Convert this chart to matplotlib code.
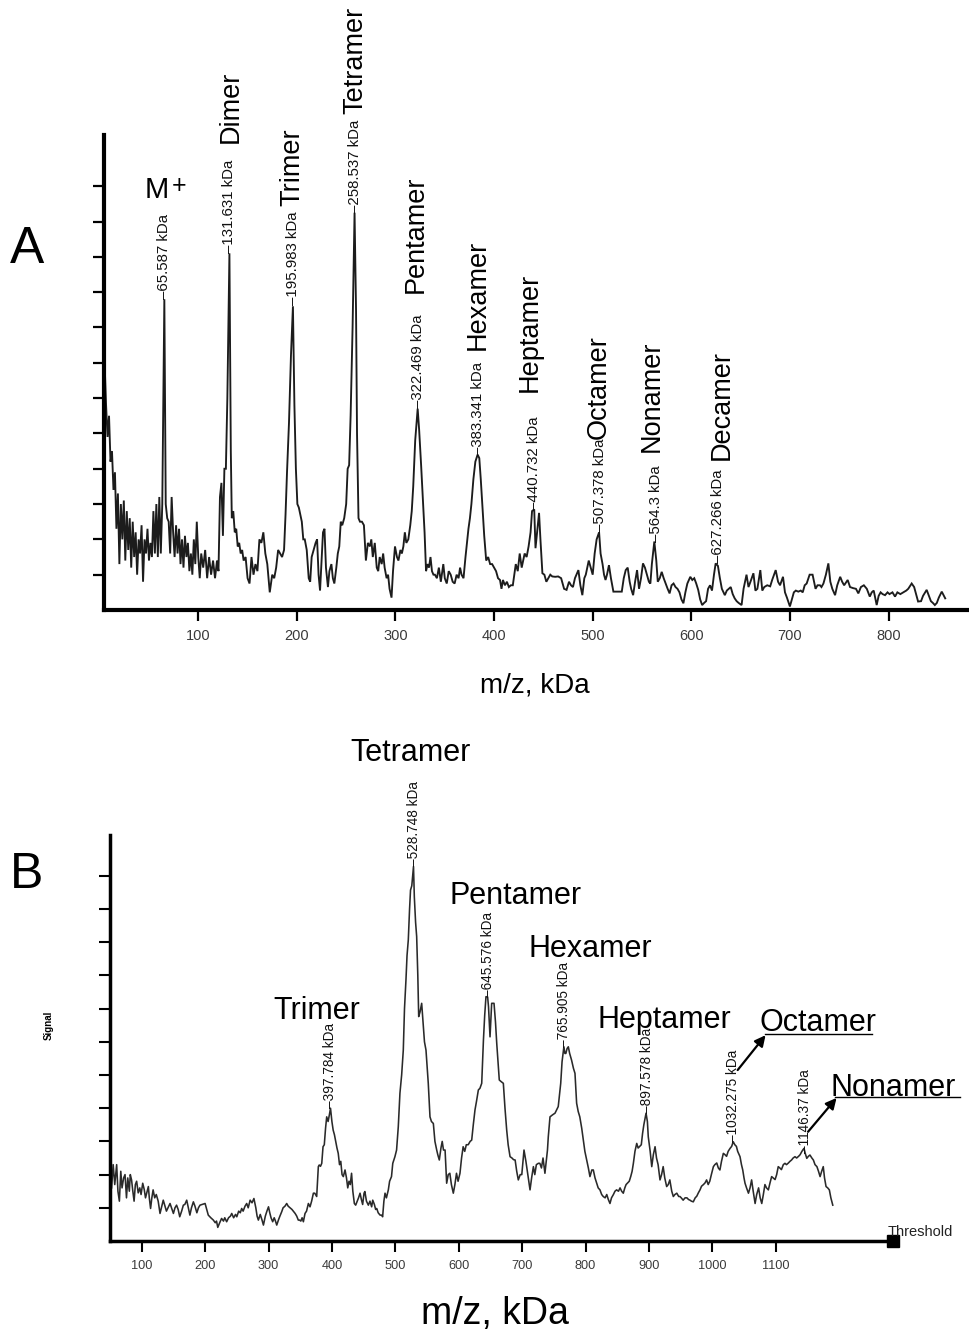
import matplotlib
matplotlib.use('Agg')
import matplotlib.pyplot as plt

plt.rcParams['font.family'] = ['Liberation Sans', 'DejaVu Sans']

# ---------------- data ----------------
spectrum_a = [
    (5, 7.0), (6.5, 5.8), (8, 4.9), (9.5, 5.5), (11, 4.2), (12.5, 4.5), (14, 3.4), (15.5, 3.9),
    (17, 2.3), (18.5, 3.3), (20, 1.3), (21.5, 3.0), (23, 2.0), (24.5, 3.1), (26, 1.4), (27.5, 2.8),
    (29, 1.7), (30.5, 2.6), (32, 1.2), (33.5, 2.5), (35, 1.5), (36.5, 2.2), (38, 1.0), (39.5, 2.0),
    (41, 1.6), (42.5, 2.4), (44, 0.8), (45.5, 2.0), (47, 1.6), (48.5, 2.3), (50, 1.4), (51.5, 1.9),
    (53, 1.5), (54.5, 2.8), (56, 1.6), (57.5, 3.0), (59, 1.5), (60.5, 3.2), (62, 1.6), (63.5, 3.0),
    (65.6, 8.8), (67, 3.0), (68.5, 2.6), (70, 2.5), (71.5, 1.6), (73, 3.2), (74.5, 2.2), (76, 1.5),
    (77.5, 2.4), (79, 1.6), (80.5, 2.3), (82, 1.3), (83.5, 2.0), (85, 1.2), (86.5, 2.1), (88, 1.5),
    (89.5, 1.9), (91, 1.1), (92.5, 1.6), (94, 1.0), (95.5, 2.0), (97, 1.3), (98.5, 2.5), (100, 1.5),
    (101.5, 0.9), (103, 1.6), (105, 1.2), (107, 1.7), (109, 0.9), (111, 1.5), (113, 1.0), (115, 1.4),
    (117, 0.9), (119, 1.4), (120.5, 1.1), (122, 3.2), (123.5, 3.6), (125, 2.1), (126.5, 4.0), (128, 4.0),
    (129.5, 6.0), (131.6, 10.1), (133, 4.5), (134, 2.6), (135.5, 2.8), (137, 2.2), (138.5, 2.3), (140, 1.8),
    (141.5, 1.9), (143, 1.6), (144.5, 1.7), (146, 1.4), (148, 1.5), (150, 0.9), (152, 0.75), (154, 1.5),
    (156, 1.0), (158, 1.3), (160, 1.1), (162, 2.0), (164, 1.9), (166, 2.2), (168, 1.6), (170, 1.3),
    (172.5, 0.5), (175, 1.0), (177, 0.9), (179, 1.2), (181, 1.7), (183, 1.6), (185, 1.5), (187, 1.7),
    (188.5, 2.7), (190, 3.9), (192, 5.3), (194, 7.2), (196, 8.6), (197.5, 5.8), (199, 4.0), (200.5, 3.0),
    (202, 2.9), (203.5, 2.7), (205, 2.5), (206.5, 2.0), (208, 2.0), (210, 1.7), (212, 0.9), (213.5, 0.8),
    (215, 1.5), (217, 1.7), (219, 1.9), (220.5, 2.0), (222, 1.0), (223.5, 0.55), (225, 1.4), (226.5, 2.2),
    (228, 2.3), (229.5, 1.2), (231.5, 0.65), (233, 1.1), (235, 1.3), (236.5, 0.9), (238, 0.75), (240, 1.2),
    (241.5, 1.6), (243, 1.8), (244.5, 2.5), (246, 2.4), (248, 2.6), (250, 3.0), (251.5, 4.0), (253, 4.1),
    (254.5, 5.5), (256.5, 8.0), (258.5, 11.25), (260, 8.5), (261, 5.0), (262.5, 2.6), (264, 2.5), (266, 2.5),
    (268, 2.4), (270, 1.4), (272, 1.9), (274, 1.8), (275.5, 2.0), (277, 1.5), (279, 1.9), (281, 1.2),
    (282.5, 1.1), (284, 1.5), (286, 1.3), (287.5, 1.6), (289, 1.2), (291, 0.9), (292.5, 1.0), (294, 0.6),
    (296, 0.35), (297.5, 1.1), (299.5, 1.8), (301.5, 1.5), (303, 1.4), (305, 1.7), (306.5, 1.6), (308, 1.8),
    (309.5, 2.2), (311, 1.9), (313, 2.0), (315, 2.4), (316.5, 2.8), (318, 3.5), (320, 4.8), (322.5, 5.7),
    (324, 5.1), (326, 4.1), (328, 3.0), (329.5, 2.2), (331, 1.1), (332.5, 1.3), (334, 1.2), (335.5, 1.5),
    (337, 1.1), (338.5, 1.0), (340, 1.0), (342, 0.9), (344, 1.2), (346, 0.8), (348.5, 1.3), (350, 0.9),
    (352, 0.75), (354, 1.1), (356, 1.0), (358, 0.8), (360, 0.75), (362, 1.0), (364, 0.9), (365.5, 1.2),
    (367, 1.0), (369, 0.9), (371, 1.5), (372.5, 1.9), (374, 2.3), (375.5, 2.6), (377, 3.0), (379, 3.7),
    (381, 4.2), (383.3, 4.4), (385, 4.3), (386.5, 3.7), (388, 3.0), (390, 2.1), (392, 1.4), (394, 1.5),
    (396, 1.3), (398, 1.3), (400, 1.2), (402, 1.1), (404, 0.9), (406, 0.85), (407.5, 0.6), (409, 0.85),
    (411, 0.7), (413, 0.8), (415, 0.65), (417, 0.7), (419, 0.7), (420.5, 1.0), (422, 1.3), (424, 1.1),
    (426, 1.6), (428, 1.2), (429.5, 1.4), (431, 1.6), (433, 1.5), (435, 1.8), (437, 2.2), (438.5, 2.8),
    (440.7, 2.85), (442, 1.75), (444, 2.3), (445.6, 2.75), (447, 2.0), (449, 1.04), (451, 1.0), (453, 0.8),
    (455, 0.9), (457, 1.0), (459, 0.95), (462, 0.94), (465, 0.95), (468, 0.9), (471, 0.6), (473.5, 0.57),
    (476, 0.8), (478, 0.7), (480, 0.65), (482, 0.9), (485.5, 1.13), (487.5, 0.7), (489.5, 0.42), (491.5, 0.9),
    (493, 1.0), (496, 1.4), (498, 1.2), (500, 1.0), (502, 1.6), (504, 2.0), (506.5, 2.2), (508, 1.6),
    (510, 1.3), (511.5, 1.0), (513, 0.85), (514.5, 1.0), (516.5, 1.27), (518.5, 0.9), (521, 0.52), (525, 0.52),
    (529.5, 0.52), (531.5, 0.9), (533.5, 1.13), (535.5, 1.2), (537.5, 0.8), (539, 0.6), (541, 0.42), (543, 0.8),
    (545, 1.13), (547, 0.6), (549, 0.9), (551, 1.32), (553, 1.2), (555, 1.0), (557, 0.8), (558.5, 0.75),
    (560, 1.3), (562.5, 1.94), (564.5, 1.4), (566, 0.8), (568, 0.9), (570, 1.08), (572, 0.9), (574, 0.75),
    (576, 0.6), (578, 0.47), (580, 0.7), (582, 0.75), (584, 0.65), (586, 0.6), (588, 0.5), (590, 0.3),
    (592, 0.19), (594, 0.5), (596, 0.75), (599, 0.94), (601, 0.85), (603, 0.9), (605, 0.75), (607, 0.57),
    (609, 0.3), (611, 0.14), (613, 0.2), (615, 0.25), (617, 0.6), (619, 0.7), (621, 0.55), (623, 1.0),
    (624.7, 1.32), (627, 1.25), (629, 0.9), (631, 0.6), (634, 0.42), (636, 0.55), (638, 0.6), (640, 0.65),
    (642, 0.45), (644, 0.33), (646, 0.25), (648, 0.2), (651, 0.14), (653, 0.6), (656, 1.0), (658, 0.65),
    (660, 0.8), (663, 1.04), (665, 0.55), (667, 0.6), (670, 1.13), (672, 0.55), (674, 0.65), (677, 0.7),
    (680, 0.67), (682, 0.85), (685.6, 1.13), (688, 0.8), (690, 0.7), (693, 0.94), (695, 0.5), (697, 0.35),
    (700, 0.1), (702, 0.3), (704, 0.5), (706, 0.55), (708.5, 0.52), (711, 0.55), (713, 0.5), (715, 0.7),
    (717, 0.75), (720, 1.0), (723, 1.0), (726, 0.6), (728, 0.7), (730.5, 0.7), (732, 0.65), (734, 0.75),
    (736.5, 1.0), (739, 1.32), (741, 0.8), (743, 0.6), (745.8, 0.42), (748, 0.7), (751, 0.94), (753, 0.8),
    (755, 0.7), (758.6, 0.85), (761, 0.65), (764, 0.62), (767, 0.6), (769.4, 0.47), (772, 0.65), (775, 0.7),
    (778, 0.6), (781, 0.38), (783, 0.5), (785, 0.55), (788, 0.14), (790, 0.4), (792, 0.5), (794, 0.45),
    (796.5, 0.42), (799, 0.5), (801, 0.45), (804, 0.5), (806.6, 0.38), (809, 0.5), (812, 0.45), (815, 0.5),
    (818, 0.55), (820, 0.6), (823.5, 0.75), (826, 0.65), (828, 0.45), (830, 0.24), (833, 0.25), (835, 0.4),
    (838.7, 0.57), (841, 0.4), (843, 0.25), (845, 0.2), (847, 0.14), (849, 0.2), (851, 0.35), (854, 0.52),
    (857.5, 0.33),
]

spectrum_b = [
    (52.5, 1.6), (55, 2.3), (57.5, 1.7), (60.5, 2.3), (62.5, 1.5), (64.8, 1.2), (67, 2.1), (69, 1.6),
    (71.5, 1.9), (73.7, 2.0), (76, 1.3), (78, 1.9), (80.5, 1.5), (82, 2.0), (84, 1.84), (86, 1.5),
    (88, 1.2), (90, 1.7), (92, 1.8), (94.5, 1.45), (97, 1.6), (99, 1.4), (101.6, 1.74), (104, 1.55),
    (106, 1.3), (108, 1.45), (110.5, 1.64), (112, 1.3), (114, 0.98), (116, 1.3), (118, 1.54), (120.5, 1.3),
    (123, 1.4), (126, 1.2), (128.9, 0.83), (131, 1.0), (134, 1.23), (136, 1.1), (139, 0.9), (141.5, 1.0),
    (144.7, 1.13), (147, 1.0), (150, 0.83), (152.5, 1.0), (155, 1.08), (157.5, 0.95), (160, 0.73), (163, 0.9),
    (165.7, 1.08), (168, 1.1), (171, 1.23), (173.5, 1.0), (176, 0.78), (178.5, 1.0), (181.5, 1.18), (184, 1.05),
    (187, 0.85), (189.5, 1.0), (192, 1.08), (195, 1.1), (197.5, 1.12), (200, 1.13), (202.5, 0.95), (205, 0.78),
    (209, 0.7), (213, 0.63), (216, 0.55), (218, 0.6), (220, 0.41), (223, 0.55), (226, 0.68), (229, 0.6),
    (231, 0.7), (234, 0.58), (237, 0.7), (240, 0.75), (242, 0.83), (245, 0.7), (248, 0.8), (250, 0.73),
    (253, 0.9), (255.5, 0.85), (257.7, 0.98), (260, 0.9), (263, 1.05), (265.6, 1.13), (268, 1.0), (271, 1.23),
    (274, 1.15), (277, 1.28), (280, 1.0), (282, 0.75), (284, 0.63), (287, 0.8), (289.5, 0.65), (292, 0.48),
    (295, 0.75), (297.5, 0.9), (300, 1.03), (302, 0.85), (304, 0.7), (306.6, 0.58), (309, 0.7), (311, 0.6),
    (313, 0.48), (316, 0.65), (318, 0.75), (320.8, 0.88), (323, 1.0), (326, 1.05), (328.7, 1.13), (331, 1.05),
    (334, 1.0), (337, 0.95), (339, 0.9), (342, 0.83), (344.5, 0.75), (347, 0.63), (349, 0.63), (351, 0.6),
    (353, 0.7), (355, 0.58), (357.6, 0.83), (360, 0.9), (362.9, 1.13), (365.5, 1.03), (368, 1.2), (370.8, 1.44),
    (373, 1.44), (376, 1.34), (378.6, 2.24), (380, 2.29), (382, 2.25), (384, 2.34), (386, 2.84), (388, 2.9),
    (390, 3.4), (391.8, 3.74), (394, 3.6), (396, 3.8), (397.8, 4.0), (400, 3.6), (402, 3.34), (404, 3.2),
    (406, 3.0), (408, 2.8), (410, 2.64), (412, 2.3), (414, 2.4), (416, 2.0), (418, 1.94), (420.7, 2.14),
    (423, 1.9), (425, 1.6), (427, 1.8), (429, 1.7), (431, 2.04), (433, 1.5), (435.4, 1.13), (437.5, 1.08),
    (440, 1.2), (442, 1.3), (444.4, 1.44), (446.5, 1.25), (448.5, 1.1), (450.7, 1.44), (452, 1.49), (454.5, 1.2),
    (457.5, 1.08), (460, 1.2), (462.7, 1.03), (464.4, 1.23), (467, 1.1), (469, 0.95), (470.7, 0.98), (473, 0.85),
    (476, 0.78), (478.5, 0.78), (480, 0.73), (482, 1.2), (483.8, 1.44), (486, 1.3), (489, 1.54), (491, 1.8),
    (494, 1.94), (496, 2.34), (499.4, 2.54), (502, 2.74), (504.7, 3.44), (507.3, 4.45), (510, 5.0), (512.6, 5.75),
    (514.5, 7.0), (516.8, 7.86), (518.5, 8.6), (520.5, 9.07), (522.5, 10.0), (524, 10.57), (526, 10.7), (528.7, 11.28),
    (530, 10.37), (532, 9.6), (533.7, 9.17), (535.5, 8.0), (536.9, 6.76), (539, 6.9), (541.6, 7.16), (544.2, 6.46),
    (546, 6.0), (548.4, 5.75), (550, 5.3), (552, 4.75), (554.7, 3.74), (557, 3.6), (560, 3.54), (562.5, 3.0),
    (565.3, 2.74), (567, 2.6), (569.4, 2.44), (572, 2.8), (574, 3.0), (576, 2.74), (578.5, 2.74), (581, 1.74),
    (583.5, 2.0), (586, 2.04), (588.5, 1.7), (591.5, 1.44), (594, 1.7), (596.5, 2.04), (599, 1.8), (602, 2.04),
    (604.5, 2.5), (607, 2.84), (609.5, 2.7), (612, 2.9), (615, 2.9), (618, 3.0), (620.5, 3.04), (623, 3.5),
    (625.7, 3.95), (628, 4.2), (631, 4.55), (633.5, 4.6), (636.3, 4.75), (639, 6.05), (641, 6.8), (643, 7.36),
    (645.6, 7.35), (647, 7.06), (649.4, 6.15), (652, 7.16), (655.7, 7.16), (658, 6.6), (660, 5.95), (662, 5.4),
    (664, 4.85), (667, 4.8), (670.4, 4.75), (673, 4.0), (675.7, 3.34), (678, 2.9), (681, 2.54), (684, 2.5),
    (686.5, 2.45), (689, 2.44), (691.5, 2.1), (694, 1.84), (697, 2.0), (699.5, 2.0), (703, 2.74), (706, 2.4),
    (709, 2.0), (712.5, 1.54), (715, 1.9), (717.8, 2.24), (720, 2.0), (722.5, 2.3), (725.7, 2.34), (728, 2.34),
    (730.5, 2.2), (733, 2.5), (736, 2.04), (738, 2.4), (740, 2.74), (741.3, 3.14), (744, 3.74), (748, 3.8),
    (751.9, 3.85), (754.5, 3.95), (757, 4.05), (759, 4.4), (760.9, 4.75), (763, 5.4), (765.9, 5.85), (767.5, 5.65),
    (769, 5.65), (771, 5.8), (772.9, 5.85), (775, 5.65), (778, 5.45), (781, 5.2), (783.4, 5.05), (786, 4.15),
    (788.5, 3.9), (791, 3.74), (794, 3.4), (796.6, 3.04), (799, 2.7), (801.9, 2.44), (804.5, 2.2), (807, 1.94),
    (810, 2.14), (812.3, 2.14), (815, 1.9), (817.6, 1.74), (820, 1.6), (822.8, 1.54), (825.5, 1.4), (828, 1.34),
    (831, 1.3), (833.5, 1.4), (836, 1.25), (838.6, 1.13), (841, 1.3), (844, 1.4), (846.5, 1.5), (849, 1.54),
    (852, 1.5), (854.5, 1.6), (857, 1.5), (859.6, 1.44), (862, 1.6), (864, 1.7), (866, 1.74), (869, 1.8),
    (871.3, 1.94), (873.5, 2.1), (875.5, 2.34), (878, 2.7), (880.8, 2.94), (883, 2.8), (885.5, 2.85), (888, 2.9),
    (890, 3.24), (892, 3.5), (895.5, 3.85), (897.6, 3.6), (899, 3.14), (902, 2.7), (904.5, 2.24), (907, 2.6),
    (909.7, 2.84), (912, 2.5), (914.5, 2.3), (917.5, 1.84), (920, 2.0), (922.5, 2.24), (925, 1.9), (928, 1.64),
    (930.5, 1.7), (933, 1.84), (936, 1.5), (938.5, 1.34), (941, 1.4), (944, 1.44), (947, 1.34), (949, 1.34),
    (951, 1.3), (954, 1.23), (957, 1.3), (960, 1.3), (962.5, 1.25), (964.8, 1.23), (967, 1.2), (970, 1.18),
    (973, 1.3), (975.5, 1.35), (978, 1.45), (980.6, 1.54), (983, 1.65), (986, 1.7), (988.5, 1.75), (991, 1.84),
    (993.5, 1.7), (996, 1.8), (998.5, 2.0), (1001.7, 2.24), (1004, 2.3), (1007, 2.35), (1009.5, 2.2), (1012, 2.14),
    (1014.5, 2.4), (1017.4, 2.64), (1020, 2.6), (1022.5, 2.55), (1025, 2.7), (1028, 2.79), (1030.5, 2.85), (1033, 2.99),
    (1035.5, 2.9), (1038, 2.85), (1040, 2.7), (1043.7, 2.54), (1046, 2.3), (1048, 2.14), (1050, 1.9), (1051.6, 1.74),
    (1054, 1.6), (1057, 1.44), (1059.5, 1.6), (1062, 1.84), (1064.5, 1.5), (1067.5, 1.13), (1070, 1.4), (1073, 1.6),
    (1075.5, 1.3), (1078, 1.13), (1080.5, 1.4), (1083, 1.7), (1085.5, 1.6), (1088.4, 1.54), (1091, 1.75), (1093.6, 1.94),
    (1096, 1.9), (1099, 1.85), (1101.5, 2.0), (1104, 2.24), (1106.5, 2.2), (1109, 2.15), (1112, 2.3), (1114.6, 2.34),
    (1117, 2.3), (1120, 2.35), (1122.5, 2.4), (1125, 2.44), (1127.5, 2.5), (1130.4, 2.54), (1133, 2.5), (1136, 2.55),
    (1138.5, 2.6), (1141, 2.69), (1143, 2.75), (1144.7, 2.79), (1146.4, 2.65), (1149, 2.49), (1151.5, 2.55), (1154, 2.59),
    (1157, 2.5), (1159.4, 2.44), (1162, 2.3), (1165, 2.24), (1167.5, 2.1), (1170, 1.94), (1172.5, 2.1), (1175, 2.24),
    (1177, 1.9), (1179.4, 1.64), (1182, 1.6), (1184.6, 1.54), (1187, 1.3), (1190, 1.08),
]

peaks_a_mz = [65.587, 131.631, 195.983, 258.537, 322.469, 383.341, 440.732, 507.378, 564.3, 627.266]
peaks_a_int = [8.8, 10.1, 8.64, 11.25, 5.71, 4.4, 2.83, 2.2, 1.93, 1.33]
names_a = ['Dimer', 'Trimer', 'Tetramer', 'Pentamer', 'Hexamer', 'Heptamer', 'Octamer', 'Nonamer', 'Decamer']

peaks_b_mz = [397.784, 528.748, 645.576, 765.905, 897.578, 1032.275, 1146.37]
peaks_b_int = [4.0, 11.3, 7.35, 5.85, 3.85, 2.99, 2.65]
names_b = ['Trimer', 'Tetramer', 'Pentamer', 'Hexamer', 'Heptamer', 'Octamer', 'Nonamer']

xticks_a = [100, 200, 300, 400, 500, 600, 700, 800]
xticks_b = [100, 200, 300, 400, 500, 600, 700, 800, 900, 1000, 1100]
yticks_a = list(range(1, 13))
yticks_b = list(range(1, 12))

# ---------------- layout ----------------
W, H = 969, 1331
fig = plt.figure(figsize=(W / 100, H / 100), dpi=100)


def px_rect(l, t, r, b):
    return [l / W, 1 - b / H, (r - l) / W, (b - t) / H]


axA = fig.add_axes(px_rect(104, 135, 967, 610))
axB = fig.add_axes(px_rect(110, 835, 893, 1241))

line_col = '#1c1c1c'
tick_col = '#3a3a3a'

# ---------------- panel A ----------------
xa = [p[0] for p in spectrum_a]
ya = [p[1] for p in spectrum_a]
axA.plot(xa, ya, color=line_col, lw=1.35, solid_joinstyle='miter')
axA.set_xlim(4.4, 879.6)
axA.set_ylim(0, 13.45)
axA.set_xticks(xticks_a)
axA.set_yticks(yticks_a)
axA.set_yticklabels([])
for s in ['top', 'right']:
    axA.spines[s].set_visible(False)
for s in ['left', 'bottom']:
    axA.spines[s].set_linewidth(3.0)
axA.tick_params(axis='both', direction='out', length=8, width=1.6, color='black')
axA.tick_params(axis='x', labelsize=10.5, labelcolor=tick_col, pad=6)

for mz, h in zip(peaks_a_mz, peaks_a_int):
    axA.text(mz, h, '\u2013' + str(mz) + ' kDa', rotation=90, ha='center', va='bottom',
             fontsize=10.8, color='#111111', clip_on=False)

# rotated oligomer names (x centre, bottom y)
pos_names_a = [(133.2, 13.23), (195.5, 11.45), (259.0, 14.05), (320.9, 8.98), (383.2, 7.37),
               (436.4, 6.18), (506.4, 4.85), (559.6, 4.48), (631.0, 4.25)]
for name, (x, y) in zip(names_a, pos_names_a):
    axA.text(x, y, name, rotation=90, ha='center', va='bottom', fontsize=19.5, clip_on=False)

axA.text(46, 11.67, 'M', fontsize=21, ha='left', va='baseline', clip_on=False)
axA.text(73.3, 12.35, '+', fontsize=18, ha='left', va='top', clip_on=False)

fig.text(535 / W, 1 - 686 / H, 'm/z, kDa', fontsize=20, ha='center', va='center')
fig.text(10 / W, 1 - 263 / H, 'A', fontsize=37, ha='left', va='baseline')

# ---------------- panel B ----------------
xb = [p[0] for p in spectrum_b]
yb = [p[1] for p in spectrum_b]
axB.plot(xb, yb, color='#2a2a2a', lw=1.15)
axB.set_xlim(50, 1285)
axB.set_ylim(0, 12.23)
axB.set_xticks(xticks_b)
axB.set_yticks(yticks_b)
axB.set_yticklabels([])
for s in ['top', 'right']:
    axB.spines[s].set_visible(False)
for s in ['left', 'bottom']:
    axB.spines[s].set_linewidth(2.5)
axB.tick_params(axis='both', direction='out', length=8, width=1.5, color='black')
axB.tick_params(axis='x', labelsize=9.2, labelcolor=tick_col, pad=6)

for mz, h in zip(peaks_b_mz, peaks_b_int):
    axB.text(mz, h, '\u2013' + str(mz) + ' kDa', rotation=90, ha='center', va='bottom',
             fontsize=9.8, color='#111111', clip_on=False)

pos_names_b = [(307, 6.69), (428.4, 14.46), (584.7, 10.15), (709.3, 8.55), (819.7, 6.42),
               (1073.7, 6.33), (1187.2, 4.37)]
for name, (x, y) in zip(names_b, pos_names_b):
    axB.text(x, y, name, ha='left', va='baseline', fontsize=22, clip_on=False)

# underlines and arrows for Octamer / Nonamer
axB.plot([1083.5, 1252], [6.23, 6.23], color='black', lw=1.0, clip_on=False)
axB.plot([1193.6, 1390.7], [4.34, 4.34], color='black', lw=1.0, clip_on=False)
axB.annotate('', xy=(1084, 6.2), xytext=(1040, 5.15), annotation_clip=False,
             arrowprops=dict(arrowstyle='-|>', color='black', lw=1.6, mutation_scale=16,
                             shrinkA=0, shrinkB=0))
axB.annotate('', xy=(1196, 4.31), xytext=(1151, 3.29), annotation_clip=False,
             arrowprops=dict(arrowstyle='-|>', color='black', lw=1.6, mutation_scale=16,
                             shrinkA=0, shrinkB=0))

axB.plot([1285], [0], marker='s', ms=8, color='black', clip_on=False)
axB.text(1277, 0.15, 'Threshold', fontsize=10.5, ha='left', va='baseline', color='#222222', clip_on=False)

fig.text(49 / W, 1 - 1025 / H, 'Signal', rotation=90, fontsize=7, fontweight='bold',
         ha='center', va='center')
fig.text(495 / W, 1 - 1314 / H, 'm/z, kDa', fontsize=27, ha='center', va='center')
fig.text(10 / W, 1 - 888 / H, 'B', fontsize=36, ha='left', va='baseline')

fig.savefig('out.png', dpi=100, facecolor='white')
